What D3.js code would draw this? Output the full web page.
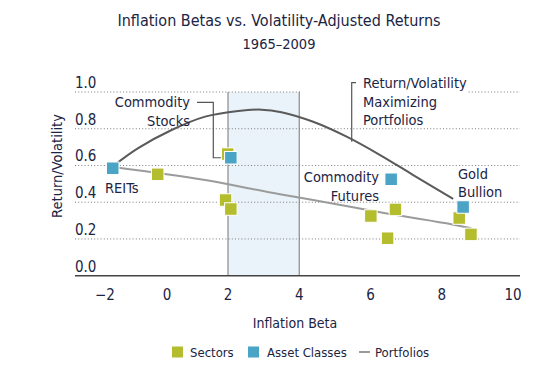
<!DOCTYPE html>
<html><head><meta charset="utf-8">
<script src="https://cdn.jsdelivr.net/npm/d3@7"></script>
<style>
body{margin:0;background:#fff;}
text{font-family:"Liberation Sans Narrow","DejaVu Sans Condensed","Arial Narrow",sans-serif;fill:#1b2443;}
</style></head>
<body><svg id="c" width="552" height="367"></svg>
<script>
const title = "Inflation Betas vs. Volatility-Adjusted Returns";
const subtitle = "1965–2009";
const xTicks = [-2, 0, 2, 4, 6, 8, 10];
const yTicks = [0.0, 0.2, 0.4, 0.6, 0.8, 1.0];
const shadeRange = [2, 4];
const sectorX = [-0.30, 1.99, 1.92, 2.08, 6.70, 6.01, 6.48, 8.49, 8.82];
const sectorY = [0.552, 0.662, 0.412, 0.363, 0.361, 0.325, 0.204, 0.314, 0.225];
const assetNames = ["REITs", "Commodity Stocks", "Commodity Futures", "Gold Bullion"];
const assetX = [-1.75, 2.08, 6.58, 8.60];
const assetY = [0.585, 0.642, 0.525, 0.374];
const maxPortX = [-1.75, -0.93, 0.15, 1.25, 2.29, 2.94, 3.5, 4.39, 5.33, 6.27, 7.2, 8.32];
const maxPortY = [0.595, 0.694, 0.793, 0.866, 0.897, 0.904, 0.89, 0.838, 0.757, 0.657, 0.548, 0.418];
const portX = [-1.75, 1.25, 3.46, 4.39, 6.27, 8.13, 8.83];
const portY = [0.592, 0.521, 0.443, 0.412, 0.345, 0.285, 0.258];
const legendItems = ["Sectors", "Asset Classes", "Portfolios"];

const green = "#b4bd2e", blue = "#4ba3c5";
const svg = d3.select("#c");
const x = d3.scaleLinear().domain([-2, 0, 2, 10]).range([105, 167, 228, 513]);
const y = d3.scaleLinear().domain([0, 1]).range([275.7, 92]);
const L = 75, R = 520;

svg.append("text").attr("x", 279).attr("y", 26).attr("text-anchor", "middle").style("font-size", "16px").text(title);
svg.append("text").attr("x", 279).attr("y", 49).attr("text-anchor", "middle").style("font-size", "14.5px").text(subtitle);

// shade
svg.append("rect").attr("x", x(shadeRange[0])).attr("y", y(1)).attr("width", x(shadeRange[1]) - x(shadeRange[0]))
  .attr("height", y(0) - y(1)).attr("fill", "#e9f3f9");
shadeRange.forEach(v => svg.append("line").attr("x1", x(v)).attr("x2", x(v)).attr("y1", y(1)).attr("y2", y(0))
  .attr("stroke", "#8a8a8a").attr("stroke-width", 1.2));

// gridlines
yTicks.filter(v => v > 0).forEach(v => svg.append("line").attr("x1", L).attr("x2", R).attr("y1", y(v)).attr("y2", y(v))
  .attr("stroke", "#7a7a7a").attr("stroke-width", 1).attr("stroke-dasharray", "1,2.2"));
// white box behind top label
svg.append("rect").attr("x", x(shadeRange[1]) + 1).attr("y", 72).attr("width", 466 - x(shadeRange[1])).attr("height", 24).attr("fill", "#fff");

// y labels
yTicks.forEach(v => svg.append("text").attr("x", L).attr("y", y(v) - 4).style("font-size", "15px").text(v.toFixed(1)));
// baseline
svg.append("line").attr("x1", L).attr("x2", R).attr("y1", y(0)).attr("y2", y(0)).attr("stroke", "#444").attr("stroke-width", 1.5);
// x labels
xTicks.forEach(v => svg.append("text").attr("x", x(v)).attr("y", 300).attr("text-anchor", "middle").style("font-size", "15px")
  .text(v < 0 ? "\u2212" + Math.abs(v) : v));

svg.append("text").attr("x", 295).attr("y", 328).attr("text-anchor", "middle").style("font-size", "14px").text("Inflation Beta");
svg.append("text").attr("transform", "translate(62,166) rotate(-90)").attr("text-anchor", "middle").style("font-size", "14.5px").text("Return/Volatility");

// lines
const line = d3.line().curve(d3.curveMonotoneX);
svg.append("path").attr("d", line(portX.map((v, i) => [x(v), y(portY[i])]))).attr("fill", "none").attr("stroke", "#9b9b9b").attr("stroke-width", 2);
svg.append("path").attr("d", d3.line().curve(d3.curveCatmullRom)(maxPortX.map((v, i) => [x(v), y(maxPortY[i])]))).attr("fill", "none").attr("stroke", "#5a5a5a").attr("stroke-width", 2);

// connectors
const conn = "#555";
svg.append("path").attr("d", `M197,102.3H213.3V${y(assetY[1])}H${x(assetX[1]) - 5}`).attr("fill", "none").attr("stroke", conn).attr("stroke-width", 1.2);
svg.append("path").attr("d", `M356,82.7H351.7V141.7`).attr("fill", "none").attr("stroke", conn).attr("stroke-width", 1.2);

// markers
const s = 12.5;
sectorX.forEach((v, i) => svg.append("rect").attr("x", x(v) - s / 2).attr("y", y(sectorY[i]) - s / 2).attr("width", s).attr("height", s)
  .attr("fill", green).attr("stroke", "#fff").attr("stroke-width", 1));
assetX.forEach((v, i) => svg.append("rect").attr("x", x(v) - s / 2).attr("y", y(assetY[i]) - s / 2).attr("width", s).attr("height", s)
  .attr("fill", blue).attr("stroke", "#fff").attr("stroke-width", 1));

// annotations
function label(lines, xx, yy, anchor) {
  lines.forEach((t, i) => svg.append("text").attr("x", xx).attr("y", yy + i * 18.5).attr("text-anchor", anchor).style("font-size", "14.5px").text(t));
}
label(["Commodity", "Stocks"], 190, 107, "end");
label(["Commodity", "Futures"], 379, 182, "end");
label(["Gold", "Bullion"], 458, 178.5, "start");
label(["REITs"], 105, 192.5, "start");
label(["Return/Volatility", "Maximizing", "Portfolios"], 363, 88, "start");

// legend
const lg = svg.append("g").style("font-size", "13px");
lg.append("rect").attr("x", 172).attr("y", 346.5).attr("width", 11).attr("height", 11).attr("fill", green);
lg.append("text").attr("x", 190).attr("y", 357).text(legendItems[0]);
lg.append("rect").attr("x", 248).attr("y", 346.5).attr("width", 11).attr("height", 11).attr("fill", blue);
lg.append("text").attr("x", 267).attr("y", 357).text(legendItems[1]);
lg.append("line").attr("x1", 359).attr("x2", 370).attr("y1", 352).attr("y2", 352).attr("stroke", "#9b9b9b").attr("stroke-width", 2);
lg.append("text").attr("x", 375).attr("y", 357).text(legendItems[2]);
</script></body></html>
